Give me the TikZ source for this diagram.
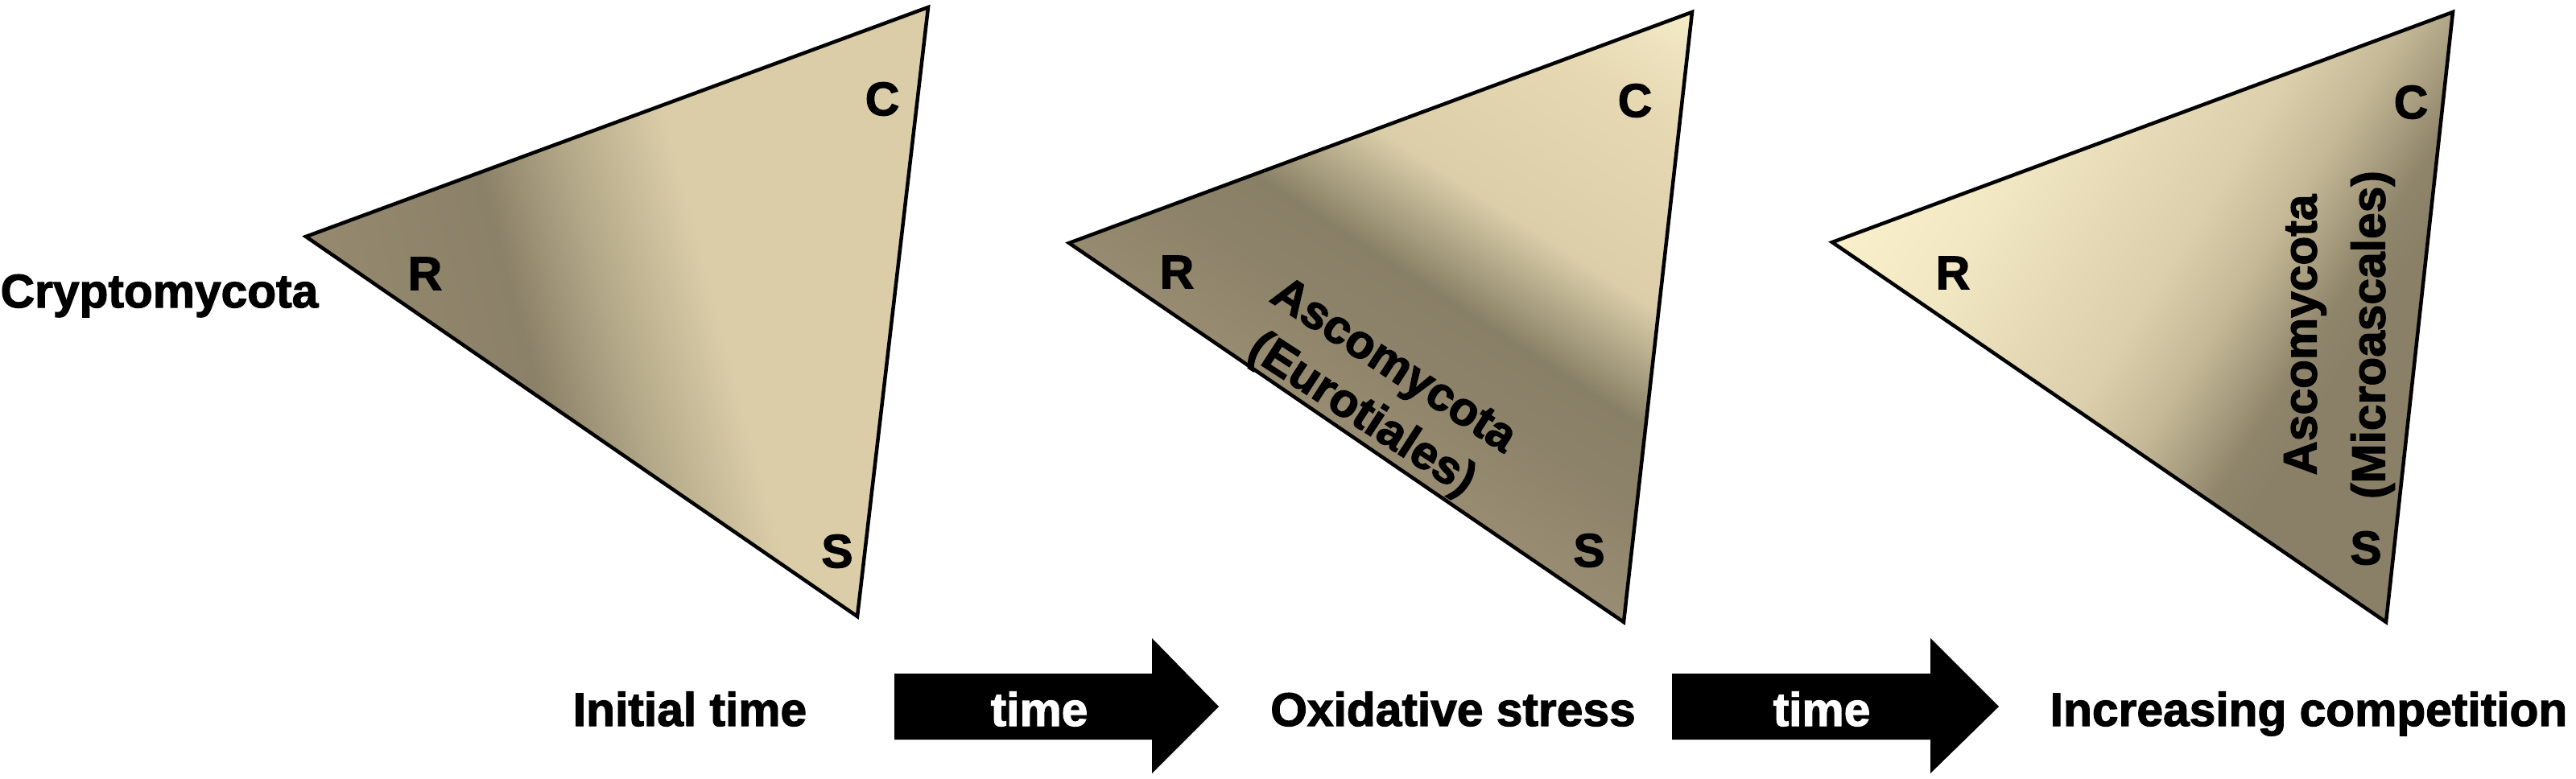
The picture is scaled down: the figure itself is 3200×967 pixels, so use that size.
\documentclass[tikz,border=0pt]{standalone}
\usepackage{fontspec}
\setmainfont{Liberation Sans}[BoldFeatures={FakeBold=2}]
% triangle 1 colours
\definecolor{aA}{HTML}{978C71}
\definecolor{aB}{HTML}{958A6F}
\definecolor{aC}{HTML}{8B8168}
\definecolor{aD}{HTML}{B3A888}
\definecolor{aE}{HTML}{DBCDA8}
% triangle 2 colours
\definecolor{bA}{HTML}{A59A7D}
\definecolor{bB}{HTML}{978C71}
\definecolor{bC}{HTML}{8C8269}
\definecolor{bD}{HTML}{888066}
\definecolor{bE}{HTML}{DBCEA9}
\definecolor{bF}{HTML}{E5D8B3}
\definecolor{bG}{HTML}{F7EDC9}
% triangle 3 colours
\definecolor{cA}{HTML}{FCF2CE}
\definecolor{cB}{HTML}{F2E7C3}
\definecolor{cC}{HTML}{DCCFAB}
\definecolor{cD}{HTML}{C4B896}
\definecolor{cE}{HTML}{A89D7F}
\definecolor{cF}{HTML}{8F856B}
\definecolor{cG}{HTML}{8A8067}
\pgfdeclarehorizontalshading{shadeA}{1600pt}{color(0pt)=(aA); color(460pt)=(aB); color(690pt)=(aC); color(800pt)=(aD); color(930pt)=(aE); color(1600pt)=(aE)}
\pgfdeclarehorizontalshading{shadeB}{1600pt}{color(0pt)=(bA); color(600pt)=(bB); color(720pt)=(bC); color(800pt)=(bD); color(930pt)=(bE); color(1130pt)=(bF); color(1280pt)=(bG); color(1600pt)=(bG)}
\pgfdeclarehorizontalshading{shadeC}{1600pt}{color(0pt)=(cA); color(240pt)=(cA); color(425pt)=(cB); color(650pt)=(cC); color(740pt)=(cD); color(800pt)=(cE); color(850pt)=(cF); color(900pt)=(cG); color(1600pt)=(cG)}
\begin{document}
\begin{tikzpicture}[x=1pt,y=-1pt,
  lbl/.style={font=\fontsize{58.7}{72}\selectfont\bfseries, inner sep=0pt},
  tri/.style={draw=black, line width=4.5pt, line join=miter},
  blockarrow/.style={fill=black, draw=none}]
\fill[white] (0,0) rectangle (3200,967);
\useasboundingbox (0,0) rectangle (3200,967);

% vertices
\coordinate (aR) at (380,294);
\coordinate (aC) at (1153,9);
\coordinate (aS) at (1065,766);
\coordinate (bR) at (1328,302);
\coordinate (bC) at (2102,15);
\coordinate (bS) at (2017,773);
\coordinate (cR) at (2276,301);
\coordinate (cC) at (3047,15);
\coordinate (cS) at (2964,773);

% triangle 1
\begin{scope}
  \clip (aR) -- (aC) -- (aS) -- cycle;
  \begin{scope}[shift={(760,400)}, rotate=15]
    \pgflowlevelsynccm
    \pgftext{\pgfuseshading{shadeA}}
  \end{scope}
\end{scope}
\draw[tri] (aR) -- (aC) -- (aS) -- cycle;

% triangle 2
\begin{scope}
  \clip (bR) -- (bC) -- (bS) -- cycle;
  \begin{scope}[shift={(1800,373)}, rotate=57]
    \pgflowlevelsynccm
    \pgftext{\pgfuseshading{shadeB}}
  \end{scope}
\end{scope}
\draw[tri] (bR) -- (bC) -- (bS) -- cycle;

% triangle 3
\begin{scope}
  \clip (cR) -- (cC) -- (cS) -- cycle;
  \begin{scope}[shift={(2760,510)}, rotate=-32]
    \pgflowlevelsynccm
    \pgftext{\pgfuseshading{shadeC}}
  \end{scope}
\end{scope}
\draw[tri] (cR) -- (cC) -- (cS) -- cycle;

% corner labels
\node[lbl] (laR) at (528,340) {R};
\node[lbl] (laC) at (1096,123) {C};
\node[lbl] (laS) at (1040,685) {S};
\node[lbl] (lbR) at (1462,338) {R};
\node[lbl] (lbC) at (2031,125) {C};
\node[lbl] (lbS) at (1974,684) {S};
\node[lbl] (lcR) at (2426,339) {R};
\node[lbl] (lcC) at (2995,127) {C};
\node[lbl] (lcS) at (2939,681) {S};

% taxa
\node[lbl, anchor=base] (crypto) at (198,382) {Cryptomycota};
\node[lbl, align=center, rotate=-33] (euro) at (1710,487) {Ascomycota\\(Eurotiales)};
\node[lbl, align=center, rotate=90, font=\fontsize{58.7}{85}\selectfont\bfseries] (micro) at (2906,416) {Ascomycota\\(Microascales)};

% block arrows
\coordinate (p1a) at (1111,837); \coordinate (p1b) at (1431,837);
\coordinate (p1c) at (1431,793); \coordinate (p1d) at (1514,878);
\coordinate (p1e) at (1431,961); \coordinate (p1f) at (1431,919);
\coordinate (p1g) at (1111,919);
\fill[blockarrow] (p1a) -- (p1b) -- (p1c) -- (p1d) -- (p1e) -- (p1f) -- (p1g) -- cycle;
\coordinate (p2a) at (2077,837); \coordinate (p2b) at (2398,837);
\coordinate (p2c) at (2398,793); \coordinate (p2d) at (2483,878);
\coordinate (p2e) at (2398,961); \coordinate (p2f) at (2398,919);
\coordinate (p2g) at (2077,919);
\fill[blockarrow] (p2a) -- (p2b) -- (p2c) -- (p2d) -- (p2e) -- (p2f) -- (p2g) -- cycle;
\node[lbl, anchor=base, text=white] (time1) at (1291,902) {time};
\node[lbl, anchor=base, text=white] (time2) at (2263,902) {time};

% stage labels
\node[lbl, anchor=base] (st1) at (857,902) {Initial time};
\node[lbl, anchor=base] (st2) at (1805,902) {Oxidative stress};
\node[lbl, anchor=base] (st3) at (2868,902) {Increasing competition};
\end{tikzpicture}
\end{document}
